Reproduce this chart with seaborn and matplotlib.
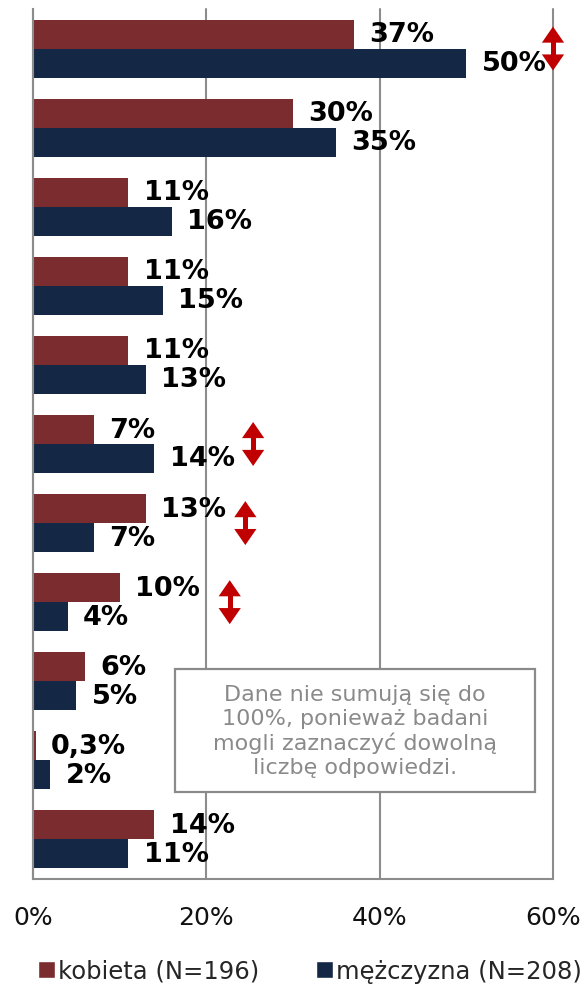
import matplotlib
matplotlib.use("Agg")
import matplotlib.pyplot as plt
from matplotlib.patches import Patch, Rectangle, FancyArrowPatch
import seaborn as sns
import pandas as pd

# Response options (rows, top to bottom)
odpowiedzi = ["Odpowiedź 1", "Odpowiedź 2", "Odpowiedź 3", "Odpowiedź 4",
              "Odpowiedź 5", "Odpowiedź 6", "Odpowiedź 7", "Odpowiedź 8",
              "Odpowiedź 9", "Odpowiedź 10", "Odpowiedź 11"]
kobieta = [37, 30, 11, 11, 11, 7, 13, 10, 6, 0.3, 14]
mezczyzna = [50, 35, 16, 15, 13, 14, 7, 4, 5, 2, 11]
serie = ["kobieta (N=196)", "mężczyzna (N=208)"]
kolory = ["#7A2C2E", "#142846"]
podzialka = [0, 20, 40, 60]
# rows with a significant difference and x position of the marker arrow
istotne_wiersze = [0, 5, 6, 7]
istotne_x = [60, 25.4, 24.5, 22.7]
uwaga = "Dane nie sumują się do\n100%, ponieważ badani\nmogli zaznaczyć dowolną\nliczbę odpowiedzi."

sns.set_theme(style="white")
plt.rcParams["font.family"] = ["DejaVu Sans"]

df = pd.DataFrame({
    "odpowiedz": odpowiedzi * 2,
    "procent": kobieta + mezczyzna,
    "plec": [serie[0]] * len(kobieta) + [serie[1]] * len(mezczyzna),
})

fig = plt.figure(figsize=(5.86, 9.87), dpi=100)
ax = fig.add_axes([33 / 586, 107 / 987, 520 / 586, 870 / 987])

sns.barplot(data=df, y="odpowiedz", x="procent", hue="plec", hue_order=serie,
            palette=kolory, orient="h", width=0.733, gap=0, dodge=True,
            saturation=1, errorbar=None, linewidth=0, legend=False, ax=ax)

ax.set_xlim(0, 60)
ax.set_ylim(len(odpowiedzi) - 0.5, -0.5)
ax.set_xlabel("")
ax.set_ylabel("")
ax.set_yticks([])
ax.set_xticks(podzialka)
ax.set_xticklabels([f"{t}%" for t in podzialka], fontsize=18, color="#111111")
ax.tick_params(axis="x", length=6, width=1.5, color="#8C8C8C", pad=13)
ax.set_axisbelow(True)
ax.xaxis.grid(True, color="#8C8C8C", linewidth=1.5)
for gl in ax.get_xgridlines():
    gl.set_clip_on(False)
for s in ["top", "right"]:
    ax.spines[s].set_visible(False)
for s in ["left", "bottom"]:
    ax.spines[s].set_color("#8C8C8C")
    ax.spines[s].set_linewidth(1.5)


def etykieta(v):
    if v < 1:
        return f"{v:.1f}".replace(".", ",") + "%"
    return f"{v:.0f}%"


for cont, wartosci in zip(ax.containers, [kobieta, mezczyzna]):
    ax.bar_label(cont, labels=[etykieta(v) for v in wartosci], padding=11,
                 fontsize=19.5, fontweight="bold", color="black")

# significance arrows: filled heads plus a separate shaft
czerwony = "#C00000"
for wiersz, xs in zip(istotne_wiersze, istotne_x):
    ax.plot([xs, xs], [wiersz - 0.18, wiersz + 0.18], color=czerwony, lw=3.6,
            solid_capstyle="butt", clip_on=False, zorder=6)
    ax.add_patch(FancyArrowPatch((xs, wiersz - 0.278), (xs, wiersz + 0.278),
                                 arrowstyle="<|-|>,head_length=0.58,head_width=0.4",
                                 mutation_scale=20, facecolor=czerwony,
                                 edgecolor="none", lw=0, shrinkA=0, shrinkB=0,
                                 clip_on=False, zorder=6))

# note box
ax.add_patch(Rectangle((0.273, 0.100), 0.692, 0.141, transform=ax.transAxes,
                       facecolor="white", edgecolor="#8A8A8A", linewidth=1.6,
                       zorder=5))
ax.text(0.619, 0.1705, uwaga, transform=ax.transAxes, ha="center", va="center",
        fontsize=16, color="#8A8A8A", linespacing=1.22, zorder=6)

fig.legend(handles=[Patch(facecolor=c, label=s) for c, s in zip(kolory, serie)],
           loc="center", bbox_to_anchor=(0.529, 0.0152), ncol=2, frameon=False,
           fontsize=17.5, handlelength=0.7, handleheight=0.7, handletextpad=0.15,
           columnspacing=2.3, borderaxespad=0)

fig.savefig("out.png", dpi=100)
